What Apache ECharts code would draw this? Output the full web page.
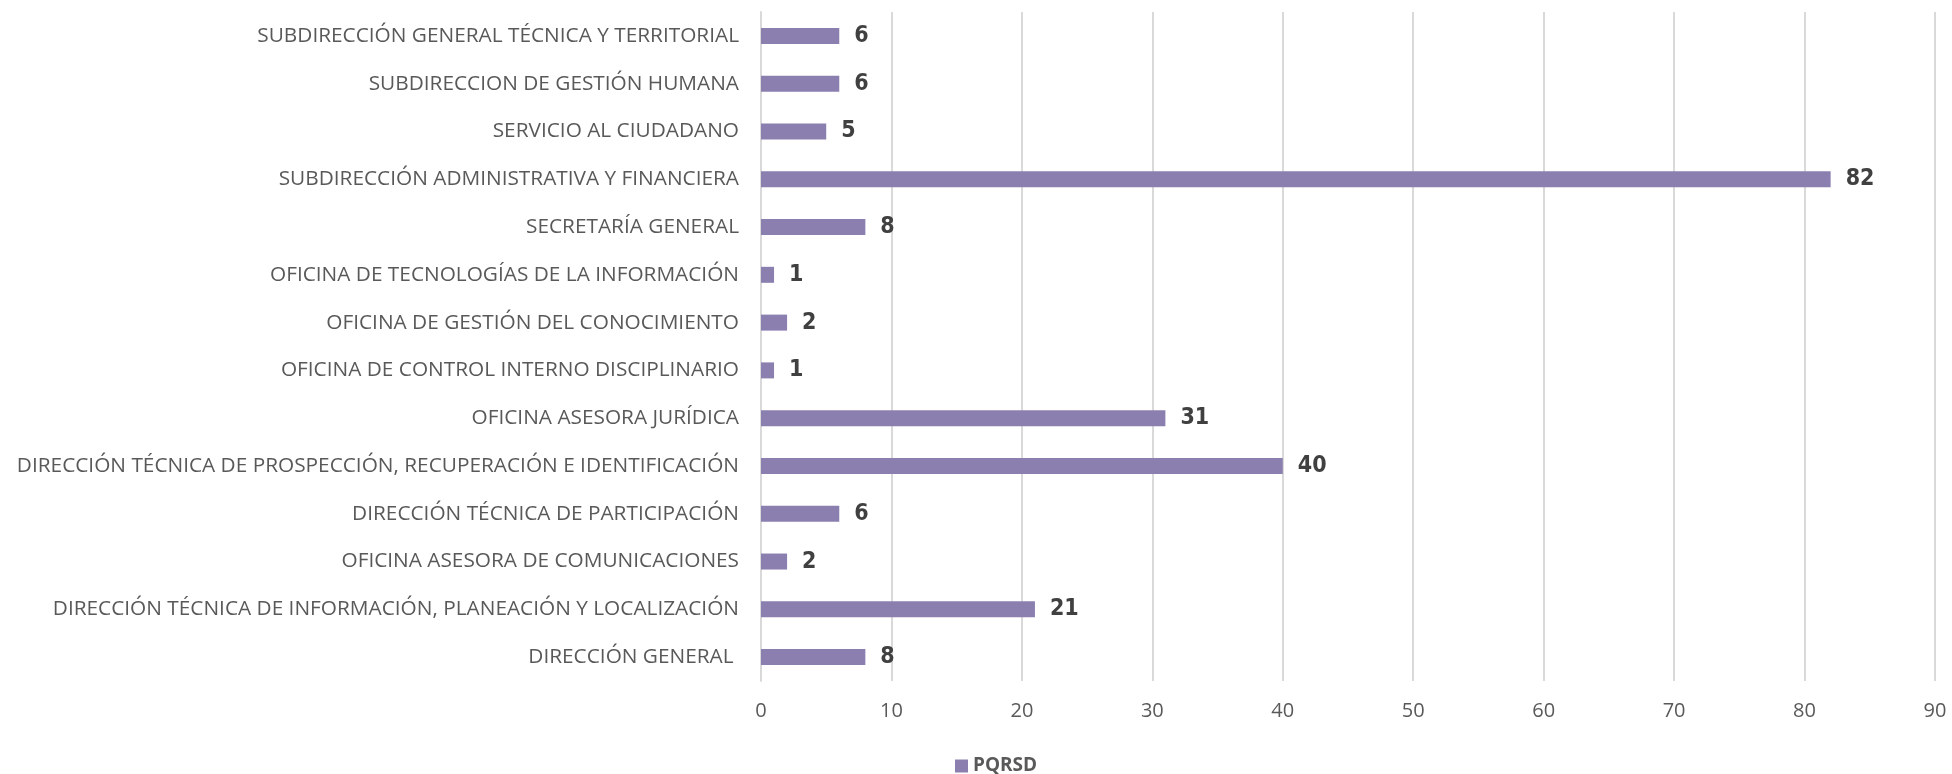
<!DOCTYPE html>
<html>
<head>
<meta charset="utf-8">
<script src="https://cdn.jsdelivr.net/npm/echarts@6/dist/echarts.min.js"></script>
<style>
	html, body { margin: 0; padding: 0; background: #fff; }
	#chart { width: 1952px; height: 774px; }
</style>
</head>
<body>
<div id="chart"></div>
<script>
// 类目（自下而上）
const categories = [
	'DIRECCIÓN GENERAL ',
	'DIRECCIÓN TÉCNICA DE INFORMACIÓN, PLANEACIÓN Y LOCALIZACIÓN',
	'OFICINA ASESORA DE COMUNICACIONES',
	'DIRECCIÓN TÉCNICA DE PARTICIPACIÓN',
	'DIRECCIÓN TÉCNICA DE PROSPECCIÓN, RECUPERACIÓN E IDENTIFICACIÓN',
	'OFICINA ASESORA JURÍDICA',
	'OFICINA DE CONTROL INTERNO DISCIPLINARIO',
	'OFICINA DE GESTIÓN DEL CONOCIMIENTO',
	'OFICINA DE TECNOLOGÍAS DE LA INFORMACIÓN',
	'SECRETARÍA GENERAL',
	'SUBDIRECCIÓN ADMINISTRATIVA Y FINANCIERA',
	'SERVICIO AL CIUDADANO',
	'SUBDIRECCION DE GESTIÓN HUMANA',
	'SUBDIRECCIÓN GENERAL TÉCNICA Y TERRITORIAL',
];
const pqrsd = [8, 21, 2, 6, 40, 31, 1, 2, 1, 8, 82, 5, 6, 6];
const xTicks = [0, 10, 20, 30, 40, 50, 60, 70, 80, 90];

const myChart = echarts.init(document.getElementById('chart'));
myChart.setOption({
	animation: false,
	grid: { left: 761, right: 17, top: 12, bottom: 93, containLabel: false },
	legend: {
		data: ['PQRSD'],
		left: 950,
		top: 750,
		itemWidth: 13,
		itemHeight: 13,
		itemGap: 8,
		icon: 'rect',
		textStyle: { fontFamily: 'Open Sans', fontWeight: 'bold', fontSize: 19, color: '#595959', lineHeight: 22 },
	},
	xAxis: {
		type: 'value',
		min: xTicks[0],
		max: xTicks[xTicks.length - 1],
		interval: 10,
		axisLine: { show: false },
		axisTick: { show: false },
		splitLine: { lineStyle: { color: '#d9d9d9', width: 2 } },
		axisLabel: { fontFamily: 'Open Sans', fontSize: 20, color: '#595959', margin: 20 },
	},
	yAxis: {
		type: 'category',
		data: categories,
		axisLine: { lineStyle: { color: '#d9d9d9', width: 2 } },
		axisTick: { show: false },
		axisLabel: { fontFamily: 'Open Sans', fontSize: 20.8, color: '#595959', margin: 22 },
	},
	series: [
		{
			name: 'PQRSD',
			type: 'bar',
			data: pqrsd,
			barWidth: 16,
			itemStyle: { color: '#8B7FB0' },
			label: {
				show: true,
				position: 'right',
				distance: 15,
				fontFamily: 'DejaVu Sans Condensed, Roboto, sans-serif',
				fontWeight: 'bold',
				fontSize: 23,
				color: '#404040',
			},
		},
	],
});
</script>
</body>
</html>
